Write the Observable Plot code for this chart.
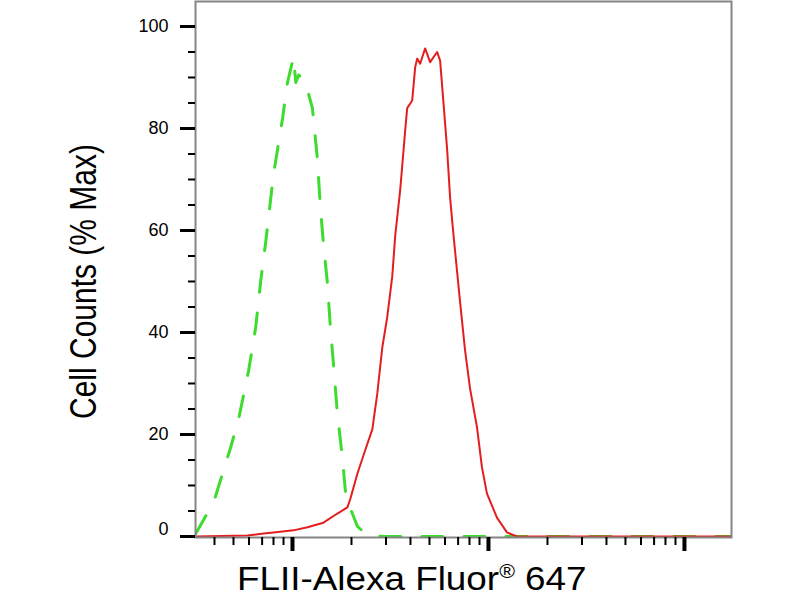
<!DOCTYPE html>
<html>
<head>
<meta charset="utf-8">
<script src="https://cdn.jsdelivr.net/npm/d3@7"></script>
<script src="https://cdn.jsdelivr.net/npm/@observablehq/plot@0.6"></script>
<style>
  html, body { margin: 0; padding: 0; background: #fff; overflow: hidden; }
  #chart { width: 800px; height: 555px; }
  #xwrap { width: 800px; height: 45px; position: relative; }
  #xlabel {
    position: absolute; left: 237px; top: 7px;
    font-family: "Liberation Sans", Arial, Helvetica, sans-serif;
    font-size: 33.5px; line-height: 33.5px; color: #000;
    white-space: nowrap; transform: scaleX(1.1); transform-origin: 0 0;
  }
  #xlabel sup { font-size: 58%; vertical-align: 0.6em; line-height: 0; }
</style>
</head>
<body>
<div id="chart"></div>
<div id="xwrap"><div id="xlabel">FLII-Alexa Fluor<sup>®</sup> 647</div></div>
<script>
// Control (isotype) histogram — green dashed
const controlX = [320, 396, 484, 531, 597, 649, 688, 729, 773, 800, 890, 943, 1012, 1040, 1075, 1165, 1264, 1340, 1388, 1438, 1508, 1561, 1617, 1695, 1797, 1861, 1929, 2143, 2409, 3000, 10000, 50000, 174000];
const controlY = [0.5, 6.7, 17.5, 23, 32.5, 41, 50, 57.5, 66, 71, 82, 89, 94, 89, 90.5, 89, 84, 74, 64.5, 57.5, 49.6, 41, 34, 24, 15.5, 9, 6.5, 2, 0.2, 0, 0, 0, 0];

// FLII stained histogram — red solid
const stainX = [320, 590, 712, 800, 1012, 1192, 1438, 1695, 1906, 1974, 2143, 2354, 2555, 2708, 2871, 3044, 3229, 3344, 3546, 3759, 3848, 4082, 4227, 4328, 4481, 4752, 5039, 5471, 5666, 5867, 6150, 6370, 6597, 6753, 7163, 7596, 8055, 8741, 9269, 9827, 11050, 12423, 13971, 174000];
const stainY = [0, 0.2, 0.6, 0.8, 1.2, 1.8, 2.7, 4.5, 5.7, 7.4, 12.3, 17, 21, 28, 37, 43, 51, 59, 68, 79.6, 84, 85.5, 92, 93.7, 92.7, 95.7, 93, 95, 93.3, 86, 76, 66.5, 60, 56, 46, 36.5, 29, 21.4, 13.5, 8.4, 3.7, 0.8, 0, 0];

// Axis ticks
const xMajorTicks = [1e3, 1e4, 1e5];
const xMinorTicks = [400, 500, 600, 700, 800, 900, 2000, 3000, 4000, 5000, 6000, 7000, 8000, 9000, 20000, 30000, 40000, 50000, 60000, 70000, 80000, 90000];
const yMajorTicks = [0, 20, 40, 60, 80, 100];
const yMinorTicks = [5, 10, 15, 25, 30, 35, 45, 50, 55, 65, 70, 75, 85, 90, 95];
const yLabel = "Cell Counts (% Max)";

const control = controlX.map((x, i) => ({x, y: controlY[i]}));
const stain = stainX.map((x, i) => ({x, y: stainY[i]}));

const font = '"Liberation Sans", Arial, Helvetica, sans-serif';

const chart = Plot.plot({
  width: 800,
  height: 555,
  marginTop: 1,
  marginBottom: 18,
  marginLeft: 195,
  marginRight: 69,
  style: {fontFamily: font, background: "#fff", overflow: "visible"},
  x: {type: "log", domain: [320, 173800], axis: null},
  y: {domain: [-0.2, 104.9], axis: null},
  marks: [
    Plot.line(control, {x: "x", y: "y", stroke: "#3ddc2e", strokeWidth: 3, strokeDasharray: "21,21", clip: true}),
    Plot.line(stain, {x: "x", y: "y", stroke: "#e41e1e", strokeWidth: 2, clip: true}),
    Plot.frame({stroke: "#858585", strokeWidth: 2}),
    Plot.axisX(xMinorTicks, {anchor: "bottom", tickSize: 8, strokeWidth: 2, stroke: "#000", tickFormat: () => "", label: null}),
    Plot.axisX(xMajorTicks, {anchor: "bottom", tickSize: 14, strokeWidth: 4, stroke: "#000", tickFormat: () => "", label: null}),
    Plot.axisY(yMinorTicks, {anchor: "left", tickSize: 7, strokeWidth: 2, stroke: "#000", tickFormat: () => "", label: null}),
    Plot.axisY(yMajorTicks, {anchor: "left", tickSize: 15, strokeWidth: 3, stroke: "#000", tickFormat: () => "", label: null}),
    Plot.axisY(yMajorTicks.filter(d => d !== 0), {anchor: "left", tickSize: 0, tickPadding: 27, fontSize: 18, fill: "#000", label: null}),
    Plot.axisY([0], {anchor: "left", tickSize: 0, tickPadding: 27, fontSize: 18, fill: "#000", dy: -7, label: null}),
    Plot.text([yLabel], {frameAnchor: "left", rotate: -90, textAnchor: "middle", lineAnchor: "bottom", dx: -100, dy: 12, fontSize: 30, fill: "#000", className: "ylab"})
  ]
});
// mimic the reference's slightly widened glyphs on the rotated axis title
d3.select(chart).selectAll(".ylab text").attr("transform", function() {
  const t = this.getAttribute("transform") || "";
  return t + " scale(1,1.2)";
});
document.getElementById("chart").appendChild(chart);
</script>
</body>
</html>
